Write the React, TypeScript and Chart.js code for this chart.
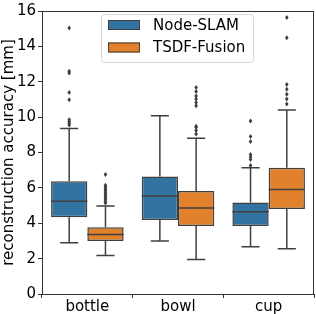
import React, { useEffect, useRef } from 'react';
import { Chart, registerables } from 'chart.js';
Chart.register(...registerables);

const categories = ['bottle', 'bowl', 'cup'];
const seriesNames = ['Node-SLAM', 'TSDF-Fusion'];
const seriesColors = ['#3274a1', '#e1812c'];
const yTicksMin = 0;
const yTicksMax = 16;
const yTickStep = 2;
const yTitle = 'reconstruction accuracy [mm]';

// Node-SLAM
const nodeQ1 = [4.34, 4.19, 3.84];
const nodeMedian = [5.24, 5.54, 4.65];
const nodeQ3 = [6.37, 6.64, 5.17];
const nodeLow = [2.9, 2.99, 2.67];
const nodeHigh = [9.36, 10.08, 7.14];
const nodeOutliers = [
  [15.04, 12.6, 12.5, 11.39, 10.98, 9.85, 9.75, 9.65, 9.55],
  [],
  [9.78, 8.9, 8.62, 7.88, 7.75, 7.6, 7.27],
];

// TSDF-Fusion
const tsdfQ1 = [2.99, 3.84, 4.8];
const tsdfMedian = [3.36, 4.86, 5.91];
const tsdfQ3 = [3.78, 5.83, 7.14];
const tsdfLow = [2.18, 1.95, 2.56];
const tsdfHigh = [4.98, 8.8, 10.4];
const tsdfOutliers = [
  [6.76, 6.15, 6.05, 5.95, 5.85, 5.75, 5.65, 5.55, 5.45, 5.35, 5.25, 5.15],
  [11.67, 11.45, 11.2, 11.02, 10.83, 10.65, 9.49, 9.41, 9.25, 9.04],
  [15.63, 14.49, 11.85, 11.57, 11.3, 11.02, 10.74],
];

const stats = [
  { q1: nodeQ1, med: nodeMedian, q3: nodeQ3, lo: nodeLow, hi: nodeHigh, out: nodeOutliers },
  { q1: tsdfQ1, med: tsdfMedian, q3: tsdfQ3, lo: tsdfLow, hi: tsdfHigh, out: tsdfOutliers },
];

const LINE = '#3f3f3f';
const FONT = 'DejaVu Sans';
const FS = 15;

const boxPlugin = {
  id: 'boxExtras',
  afterDatasetsDraw(chart: any) {
    const ctx = chart.ctx;
    const y = chart.scales.y;
    ctx.save();
    ctx.strokeStyle = LINE;
    ctx.fillStyle = LINE;
    ctx.lineWidth = 1.5;
    stats.forEach((s, di) => {
      const meta = chart.getDatasetMeta(di);
      meta.data.forEach((el: any, i: number) => {
        const x = el.x;
        const w = el.width;
        const left = x - w / 2;
        const right = x + w / 2;
        const yq1 = y.getPixelForValue(s.q1[i]);
        const yq3 = y.getPixelForValue(s.q3[i]);
        const ylo = y.getPixelForValue(s.lo[i]);
        const yhi = y.getPixelForValue(s.hi[i]);
        const ymed = y.getPixelForValue(s.med[i]);
        ctx.beginPath();
        ctx.moveTo(x, yq1); ctx.lineTo(x, ylo);
        ctx.moveTo(x, yq3); ctx.lineTo(x, yhi);
        ctx.moveTo(x - w / 4, ylo); ctx.lineTo(x + w / 4, ylo);
        ctx.moveTo(x - w / 4, yhi); ctx.lineTo(x + w / 4, yhi);
        ctx.moveTo(left, ymed); ctx.lineTo(right, ymed);
        ctx.stroke();
        s.out[i].forEach((v: number) => {
          const py = y.getPixelForValue(v);
          ctx.beginPath();
          ctx.moveTo(x, py - 2.5);
          ctx.lineTo(x + 1.8, py);
          ctx.lineTo(x, py + 2.5);
          ctx.lineTo(x - 1.8, py);
          ctx.closePath();
          ctx.fill();
        });
      });
    });
    // frame
    const a = chart.chartArea;
    ctx.strokeStyle = '#333';
    ctx.lineWidth = 1;
    ctx.strokeRect(Math.round(a.left) + 0.5, Math.round(a.top) + 0.5, Math.round(a.right - a.left) - 1, Math.round(a.bottom - a.top));
    // legend
    const lx = 101, ly = 14, lw = 152, lh = 48;
    ctx.beginPath();
    ctx.roundRect(lx + 0.5, ly + 0.5, lw, lh, 3);
    ctx.fillStyle = 'rgba(255,255,255,0.8)';
    ctx.fill();
    ctx.strokeStyle = '#d6d6d6';
    ctx.lineWidth = 1;
    ctx.stroke();
    ctx.font = `${FS}px "${FONT}"`;
    ctx.textBaseline = 'middle';
    ctx.textAlign = 'left';
    chart.data.datasets.forEach((ds: any, di: number) => {
      const cy = ly + 11 + di * 22.5;
      ctx.fillStyle = ds.backgroundColor;
      ctx.fillRect(lx + 7, cy - 5, 32, 10);
      ctx.strokeStyle = LINE;
      ctx.lineWidth = 1;
      ctx.strokeRect(lx + 7.5, cy - 4.5, 31, 9);
      ctx.fillStyle = '#000';
      ctx.fillText(ds.label, lx + 52, cy + 1);
    });
    ctx.restore();
  },
};

export default function App() {
  const ref = useRef<HTMLCanvasElement | null>(null);
  useEffect(() => {
    document.body.style.margin = '0';
    const canvas = ref.current!;
    const chart = new Chart(canvas, {
      type: 'bar',
      data: {
        labels: categories,
        datasets: stats.map((s, di) => ({
          label: seriesNames[di],
          data: s.q1.map((q, i) => [q, s.q3[i]]),
          backgroundColor: seriesColors[di],
          borderColor: LINE,
          borderWidth: 1.5,
          borderSkipped: false,
          categoryPercentage: 0.8,
          barPercentage: 1.0,
        })),
      },
      options: {
        animation: false,
        responsive: false,
        maintainAspectRatio: false,
        layout: { padding: { top: 5, right: 2, left: 0, bottom: 0 } },
        plugins: { legend: { display: false }, tooltip: { enabled: false } },
        scales: {
          x: {
            grid: { drawOnChartArea: false, drawTicks: true, tickLength: 4, color: '#333' },
            border: { display: false },
            ticks: { color: '#000', font: { family: FONT, size: FS }, padding: 0 },
            afterFit: (s: any) => { s.height = 20; },
          },
          y: {
            min: yTicksMin,
            max: yTicksMax,
            grid: { drawOnChartArea: false, drawTicks: true, tickLength: 4, color: '#333' },
            border: { display: false },
            ticks: { stepSize: yTickStep, color: '#000', font: { family: FONT, size: FS }, padding: 2 },
            title: { display: true, text: yTitle, color: '#000', font: { family: FONT, size: FS }, padding: { top: 0, bottom: 0 } },
            afterFit: (s: any) => { s.width = 42; },
          },
        },
      },
      plugins: [boxPlugin],
    });
    return () => chart.destroy();
  }, []);
  return (
    <div style={{ width: 316, height: 314 }}>
      <canvas ref={ref} width={316} height={314} style={{ display: 'block' }} />
    </div>
  );
}
